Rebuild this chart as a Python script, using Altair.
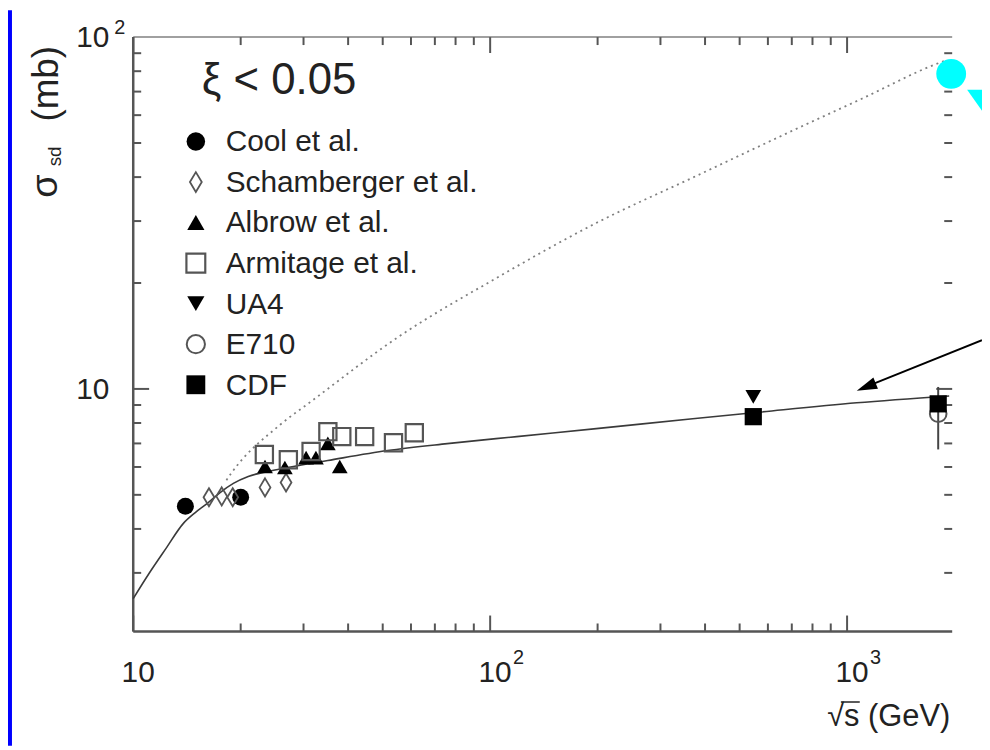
import altair as alt
import pandas as pd

# ---------------- data ----------------
cool_x = [14.0, 20.0]
cool_y = [4.64, 4.92]
sch_x = [16.3, 17.7, 19.0, 23.4, 26.8]
sch_y = [4.92, 4.95, 4.92, 5.25, 5.42]
alb_x = [23.4, 26.6, 30.5, 32.5, 35.1, 37.9]
alb_y = [6.02, 5.98, 6.38, 6.38, 7.00, 6.02]
arm_x = [23.3, 27.2, 31.5, 35.1, 38.4, 44.5, 53.6, 61.3]
arm_y = [6.51, 6.29, 6.64, 7.56, 7.32, 7.32, 7.03, 7.51]
ua4_x = [546]
ua4_y = [9.49]
e710_x = [1800]
e710_y = [8.50]
e710_lo = [6.73]
e710_hi = [10.13]
cdf_x = [546, 1800]
cdf_y = [8.34, 9.07]

fit_x = [10.0, 11.06, 12.33, 13.84, 14.95, 16.25, 17.55, 19.08, 21.0, 23.9,
         27.1, 35.1, 51.6, 75.8, 118.7, 198.3, 369.4, 542.6, 1064, 1932]
fit_y = [2.535, 2.983, 3.51, 4.155, 4.46, 4.76, 5.085, 5.39, 5.64, 5.83,
         5.98, 6.26, 6.68, 6.99, 7.32, 7.71, 8.23, 8.55, 9.13, 9.55]
dot_x = [18.24, 18.8, 25.8, 31.4, 55.0, 104.5, 198, 376, 714, 1099, 1754, 1906]
dot_y = [5.50, 5.75, 7.91, 9.19, 14.0, 20.7, 29.6, 40.2, 54.6, 66.8, 83.4, 86.1]

x_major = [10, 100, 1000]
x_minor = [20, 30, 40, 50, 60, 70, 80, 90, 200, 300, 400, 500, 600, 700, 800, 900]
y_major = [10]
y_minor = [3, 4, 5, 6, 7, 8, 9, 20, 30, 40, 50, 60, 70, 80, 90]

x_lab_vals = [10, 100, 1000]
x_lab_base = ["10", "10", "10"]
x_lab_sup = ["", "2", "3"]
y_lab_vals = [10, 100]
y_lab_base = ["10", "10"]
y_lab_sup = ["", "2"]

legend_labels = ["Cool et al.", "Schamberger et al.", "Albrow et al.",
                 "Armitage et al.", "UA4", "E710", "CDF"]
cut_text = "ξ < 0.05"

# ---------------- layout / styles ----------------
W, H = 824, 598
XS = alt.Scale(type="log", domain=[10, 1970], nice=False)
YS = alt.Scale(type="log", domain=[2.045, 100], nice=False)
FONT = "Liberation Sans"
INK = "#222222"
AX = "#555555"
DIAMOND = "M0,-1L0.6,0L0,1L-0.6,0Z"
one = pd.DataFrame({"k": [0]})


def xenc(f="x"):
    return alt.X(f"{f}:Q", scale=XS, axis=None)


def yenc(f="y"):
    return alt.Y(f"{f}:Q", scale=YS, axis=None)


layers = []

# blue slide border (left strip)
layers.append(alt.Chart(one).mark_rect(color="#0000ff").encode(
    x=alt.value(-126), x2=alt.value(-122), y=alt.value(-27), y2=alt.value(713)))

# frame
layers.append(alt.Chart(one).mark_rule(color="#a0a0a0", strokeWidth=2).encode(
    x=alt.value(0), x2=alt.value(W), y=alt.value(0)))
layers.append(alt.Chart(one).mark_rule(color=AX, strokeWidth=2.5).encode(
    x=alt.value(0), y=alt.value(0), y2=alt.value(H)))
layers.append(alt.Chart(one).mark_rule(color=AX, strokeWidth=2.5).encode(
    x=alt.value(0), x2=alt.value(W), y=alt.value(H)))

# ticks (inward, mirrored)
for vals, ln in [(x_major, 16), (x_minor, 8)]:
    df = pd.DataFrame({"v": vals})
    layers.append(alt.Chart(df).mark_rule(color=AX, strokeWidth=2).encode(
        x=xenc("v"), y=alt.value(H), y2=alt.value(H - ln)))
    layers.append(alt.Chart(df).mark_rule(color=AX, strokeWidth=2).encode(
        x=xenc("v"), y=alt.value(0), y2=alt.value(ln)))
for vals, ln in [(y_major, 16), (y_minor, 8)]:
    df = pd.DataFrame({"v": vals})
    layers.append(alt.Chart(df).mark_rule(color=AX, strokeWidth=2).encode(
        y=yenc("v"), x=alt.value(0), x2=alt.value(ln)))
    layers.append(alt.Chart(df).mark_rule(color=AX, strokeWidth=2).encode(
        y=yenc("v"), x=alt.value(W), x2=alt.value(W - ln)))

# tick labels
xl = pd.DataFrame({"v": x_lab_vals, "b": x_lab_base, "s": x_lab_sup})
layers.append(alt.Chart(xl).mark_text(align="center", baseline="alphabetic", font=FONT,
                                      fontSize=30, color=INK, dx=5).encode(
    x=xenc("v"), y=alt.value(649), text="b:N"))
layers.append(alt.Chart(xl).mark_text(align="left", baseline="alphabetic", font=FONT,
                                      fontSize=20, color=INK, dx=23).encode(
    x=xenc("v"), y=alt.value(631), text="s:N"))
yl = pd.DataFrame({"v": y_lab_vals, "b": y_lab_base, "s": y_lab_sup})
layers.append(alt.Chart(yl).mark_text(align="right", baseline="alphabetic", font=FONT,
                                      fontSize=30, color=INK, dy=10).encode(
    y=yenc("v"), x=alt.value(-24), text="b:N"))
layers.append(alt.Chart(yl).mark_text(align="left", baseline="alphabetic", font=FONT,
                                      fontSize=20, color=INK, dy=-3).encode(
    y=yenc("v"), x=alt.value(-19), text="s:N"))

# curves
layers.append(alt.Chart(pd.DataFrame({"x": dot_x, "y": dot_y})).mark_line(
    color="#808080", strokeWidth=1.8, strokeDash=[2, 4], interpolate="monotone").encode(
    x=xenc(), y=yenc()))
layers.append(alt.Chart(pd.DataFrame({"x": fit_x, "y": fit_y})).mark_line(
    color="#3a3a3a", strokeWidth=1.6, interpolate="monotone").encode(
    x=xenc(), y=yenc()))

# E710 error bar
layers.append(alt.Chart(pd.DataFrame({"x": e710_x, "lo": e710_lo, "hi": e710_hi})).mark_rule(
    color="#444444", strokeWidth=2).encode(x=xenc(), y=yenc("lo"), y2="hi:Q"))

series = [
    (cool_x, cool_y, "circle", True, 290, 1, "#000000"),
    (sch_x, sch_y, DIAMOND, False, 330, 1.8, "#555555"),
    (alb_x, alb_y, "triangle-up", True, 250, 1, "#000000"),
    (arm_x, arm_y, "square", False, 300, 2.2, "#555555"),
    (ua4_x, ua4_y, "triangle-down", True, 250, 1, "#000000"),
    (e710_x, e710_y, "circle", False, 280, 2, "#555555"),
    (cdf_x, cdf_y, "square", True, 300, 1, "#000000"),
]
for i, (xs, ys, shape, filled, size, sw, col) in enumerate(series):
    layers.append(alt.Chart(pd.DataFrame({"x": xs, "y": ys})).mark_point(
        shape=shape, filled=filled, size=size, color=col, strokeWidth=sw, opacity=1).encode(
        x=xenc(), y=yenc()))
    lab = pd.DataFrame({"label": [legend_labels[i]]})
    py = 105 + 40.8 * i
    layers.append(alt.Chart(lab).mark_point(
        shape=shape, filled=filled, size=size * 1.2, color=col, strokeWidth=sw, opacity=1).encode(
        x=alt.value(63), y=alt.value(py)))
    layers.append(alt.Chart(lab).mark_text(
        align="left", baseline="middle", font=FONT, fontSize=30, color=INK).encode(
        x=alt.value(93), y=alt.value(py + 1), text="label:N"))

# xi cut text
layers.append(alt.Chart(pd.DataFrame({"t": [cut_text]})).mark_text(
    align="left", baseline="alphabetic", font=FONT, fontSize=44, color=INK).encode(
    x=alt.value(69), y=alt.value(57), text="t:N"))

# axis titles
layers.append(alt.Chart(pd.DataFrame({"t": ["√s (GeV)"]})).mark_text(
    align="right", baseline="alphabetic", font=FONT, fontSize=31, color=INK).encode(
    x=alt.value(822), y=alt.value(693), text="t:N"))
layers.append(alt.Chart(one).mark_rule(color=INK, strokeWidth=1.5).encode(
    x=alt.value(712), x2=alt.value(731), y=alt.value(669)))
for txt, fs, px, py in [("σ", 38, -88, 150), ("sd", 19, -79, 120), ("(mb)", 37, -87, 47)]:
    layers.append(alt.Chart(pd.DataFrame({"t": [txt]})).mark_text(
        align="center", baseline="middle", font=FONT, fontSize=fs, color=INK, angle=270).encode(
        x=alt.value(px), y=alt.value(py), text="t:N"))

# arrow
layers.append(alt.Chart(one).mark_rule(color="#000000", strokeWidth=2).encode(
    x=alt.value(737), y=alt.value(352), x2=alt.value(854), y2=alt.value(305)))
layers.append(alt.Chart(one).mark_point(
    shape="M0,-1L0.6,1L-0.6,1Z", filled=True, color="#000000", size=420, angle=248,
    opacity=1).encode(x=alt.value(737.5), y=alt.value(352)))

# cyan decorations
layers.append(alt.Chart(one).mark_point(
    shape="circle", filled=True, color="#00ffff", size=900, opacity=1).encode(
    x=alt.value(823), y=alt.value(37)))
layers.append(alt.Chart(one).mark_point(
    shape="M-0.56,-0.5L0.81,-0.5L0.5,1Z", filled=True, color="#00ffff", size=1024,
    opacity=1).encode(x=alt.value(848), y=alt.value(61)))

chart = alt.layer(*layers).properties(
    width=W, height=H,
    padding={"left": 126, "top": 27, "right": 30, "bottom": 115},
    autosize=alt.AutoSizeParams(type="none"),
    background="white",
).configure_view(stroke=None)

chart.save("out.html", embed_options={"renderer": "svg", "actions": False})
